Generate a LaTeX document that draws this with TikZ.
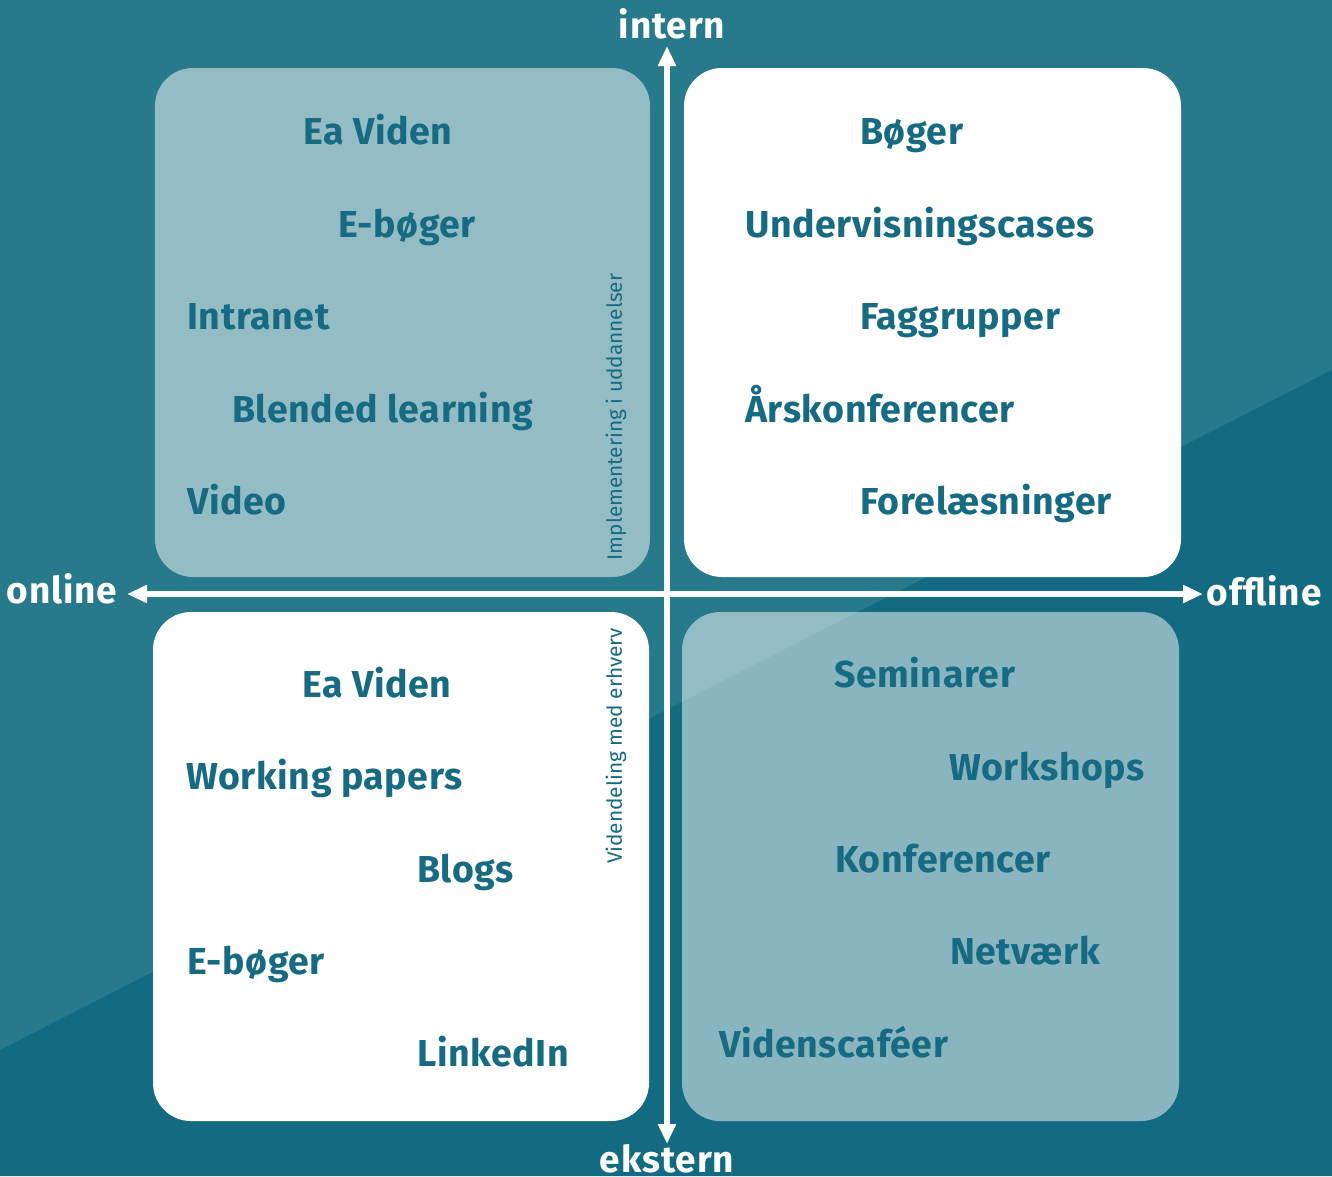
\documentclass[tikz,border=0pt]{standalone}
\usepackage{fontspec}
\setmainfont{Fira Sans}
\usetikzlibrary{arrows.meta}
\definecolor{bgA}{RGB}{39,121,140}
\definecolor{bgB}{RGB}{19,107,130}
\definecolor{ink}{RGB}{22,107,130}
\newfontfamily\itemfont[LetterSpace=1.6]{Fira Sans}
\newfontfamily\axisfont[LetterSpace=2.5]{Fira Sans}
\tikzset{
  quad/.style={rounded corners=38pt},
  item/.style={anchor=base west, inner sep=0pt, font=\itemfont\fontsize{37.5}{40}\selectfont\bfseries, text=ink},
  side/.style={inner sep=0pt, rotate=90, font=\fontsize{20.8}{22}\selectfont, text=ink},
  axislbl/.style={inner sep=0pt, font=\axisfont\fontsize{37}{40}\selectfont\bfseries, text=white},
  axis/.style={white, line width=6pt, {Triangle[length=20pt,width=17pt]}-{Triangle[length=20pt,width=17pt]}}
}
\begin{document}
\begin{tikzpicture}[x=1pt,y=-1pt]
\useasboundingbox (0,0) rectangle (1332,1176);
\fill[bgA] (0,0) rectangle (1332,1176);
\fill[bgB] (0,1050) -- (1332,370) -- (1332,1176) -- (0,1176) -- cycle;
% quadrants
\fill[white, opacity=0.5, quad] (155,68) rectangle (650,577);
\fill[white, quad] (684,68) rectangle (1181,577);
\fill[white, quad] (153,612) rectangle (649,1121);
\fill[white, opacity=0.5, quad] (682,612) rectangle (1179,1121);
% axes
\coordinate (top) at (667,46);
\coordinate (bot) at (667,1144);
\coordinate (lft) at (127,594);
\coordinate (rgt) at (1203,594);
\draw[axis] (bot) -- (top);
\draw[axis] (lft) -- (rgt);
\node[axislbl] (intern) at (672,24) {intern};
\node[axislbl] (ekstern) at (667,1159) {ekstern};
\node[axislbl] (online) at (62,589) {online};
\node[axislbl] (offline) at (1264,591) {offline};
% top-left
\node[item] (a1) at (303,144) {Ea Viden};
\node[item] (a2) at (338,237) {E-bøger};
\node[item] (a3) at (187,329) {Intranet};
\node[item] (a4) at (232,422) {Blended learning};
\node[item] (a5) at (187,514) {Video};
\node[side] (a6) at (616,417) {Implementering i uddannelser};
% top-right
\node[item] (b1) at (860,144) {Bøger};
\node[item] (b2) at (745,237) {Undervisningscases};
\node[item] (b3) at (860,329) {Faggrupper};
\node[item] (b4) at (745,422) {Årskonferencer};
\node[item] (b5) at (860,514) {Forelæsninger};
% bottom-left
\node[item] (c1) at (302,697) {Ea Viden};
\node[item] (c2) at (186,789) {Working papers};
\node[item] (c3) at (417,882) {Blogs};
\node[item] (c4) at (187,974) {E-bøger};
\node[item] (c5) at (417,1066) {LinkedIn};
\node[side] (c6) at (616,746) {Videndeling med erhverv};
% bottom-right
\node[item] (d1) at (834,687) {Seminarer};
\node[item] (d2) at (949,780) {Workshops};
\node[item] (d3) at (835,872) {Konferencer};
\node[item] (d4) at (950,964) {Netværk};
\node[item] (d5) at (719,1057) {Videnscaféer};
\end{tikzpicture}
\end{document}
